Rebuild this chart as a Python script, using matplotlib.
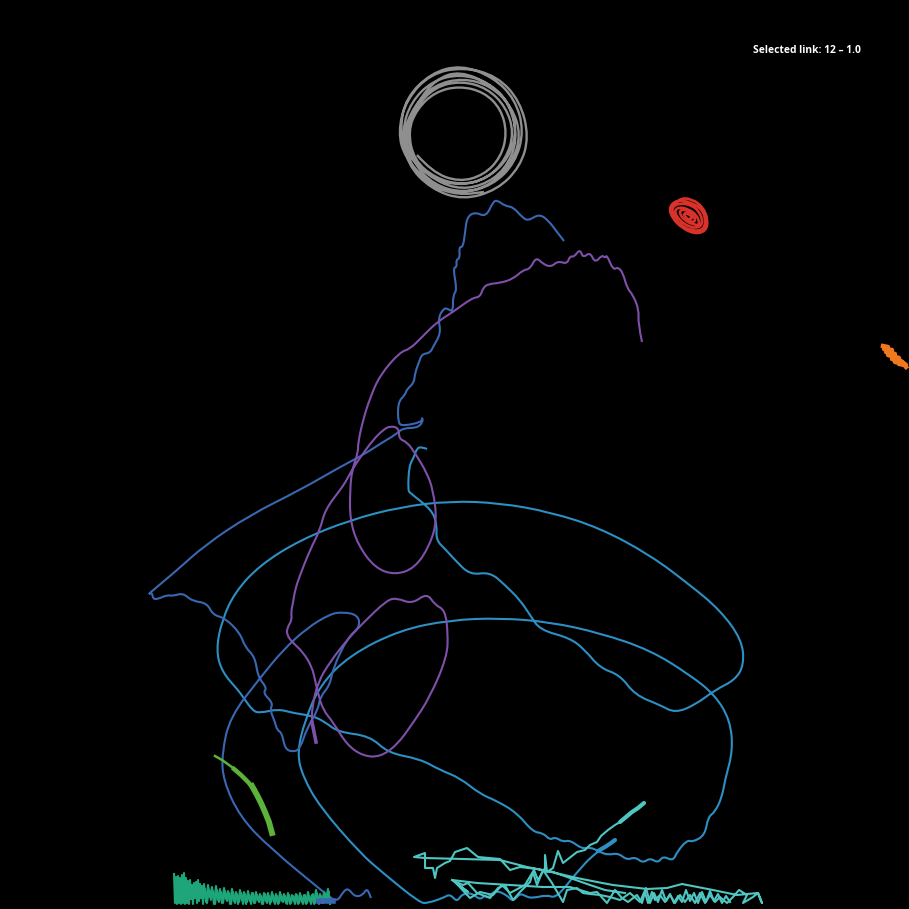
import matplotlib
matplotlib.use("Agg")
import matplotlib.pyplot as plt
from matplotlib.path import Path
from matplotlib.patches import PathPatch

TITLE = "Selected link: 12 – 1.0"

gray_x = [417,432,459,484,501,507,501,484,459,435,417,408,
          414,435,461,487,506,514,506,487,461,435,416,407,
          413,434,463,491,512,521,512,491,463,434,414,403,
          411,432,460,488,509,517,509,488,460,432,411,402,
          407,431,463,497,520,529,520,497,463,430,406,398,
          405,431,461,493,515,524,515,493,461,431,406,400,
          405,428,455,482,505,518,510,490,460,436,416,405,
          410,430,458,484]
gray_y = [155,172,182,175,157,133,109,92,86,92,109,131,
          160,178,185,179,159,133,107,88,81,87,107,133,
          163,185,193,185,163,135,107,86,78,85,106,133,
          158,178,186,178,158,130,102,82,74,81,102,130,
          164,189,200,190,167,137,101,76,67,74,100,132,
          158,185,194,185,163,131,99,77,65,73,98,128,
          152,176,189,186,170,140,104,84,71,79,104,135,
          166,186,195,192]

red_x = [671,679,692,703,708,706,695,682,672,669,677,690,702,706,703,692,680,673,672,680,691,699,703,699,689,679,674,679,688,697,700,695,685,679,682,690,696,693,686,683,689,693,689]
red_y = [207,198,199,207,220,231,234,228,218,207,200,202,209,221,230,231,225,215,207,203,205,211,222,228,227,220,211,207,209,215,225,225,221,213,209,212,219,223,218,213,214,218,219]

orange_x = [883,888,884,892,886,895,888,899,892,901,895,903,899,906,902,906]
orange_y = [346,347,349,350,352,354,355,358,359,361,362,363,364,365,362,367]

lime_thin_x = [215,222,229,236]
lime_thin_y = [756,760,765,770]
lime_mid_x = [234,241,248,254]
lime_mid_y = [769,775,782,789]
lime_wide_x = [252,257,261,265,269,272]
lime_wide_y = [786,795,803,812,822,833]

green_x = [174,175,176,177,178,179,180,181,182,183,184,185,186,187,188,189,190,191,192,193,194,195,196,197,198,199,200,201,202,203,204,206,208,210,212,214,216,218,220,222,224,226,228,230,232,234,236,238,240,242,244,246,248,250,252,254,256,258,260,262,264,266,268,270,272,274,276,278,280,282,284,286,288,290,292,294,296,298,300,302,304,306,308,310,312,314,316,318,320,322,324,326,328,330]
green_y = [874,903,877,904,876,903,878,904,875,903,873,904,878,903,881,904,880,899,885,904,883,898,882,903,880,901,884,898,886,904,884,902,885,897,887,904,886,900,889,903,888,899,891,904,889,901,892,904,890,900,892,904,891,901,893,903,892,900,894,904,893,901,893,904,892,902,894,904,892,901,894,903,893,904,895,901,894,904,893,902,895,904,892,901,895,904,890,902,894,903,892,900,889,904]
green2_x = [205,207,209,211,213,215,217,219,221,223,225,227,229,231,233,235,237,239,241,243,245,247,249,251,253,255,257,259,261,263,265,267,269,271,273,275,277,279,281,283,285,287,289,291,293,295,297,299,301,303,305,307,309,311,313,315,317,319,321,323,325,327,329]
green2_y = [889,903,890,900,891,904,890,902,892,903,891,901,893,904,892,903,894,902,893,904,894,902,895,904,893,903,895,902,896,904,894,903,896,902,895,904,896,903,895,902,896,904,895,903,896,904,895,903,896,904,895,903,896,904,894,903,893,904,896,903,894,902,892]

blue_x = [564,557,548,539,528,522,513,505,497,493,486,475,467,465,463,459,460,456,457,453,457,453,453,448,444,438,441,433,430,422,419,415,414,407,405,398,398,403,422,422,423,417,403,395,383,363,340,300,250,205,175,146,152,153,158,167,173,183,192,207,213,225,240,245,255,258,267,263,273,270,275,277,282,285,293,300,307,318,320,330,333,348,360,358,343,330,307,283,260,230,222,223,240,270,327,337,343,348,355,363,367,371]
blue_y = [241,232,220,214,221,217,207,206,200,202,217,212,217,233,247,247,258,260,267,268,290,295,312,309,308,318,333,347,353,354,362,373,383,389,395,402,423,426,422,417,422,428,428,435,442,455,467,490,515,545,572,596,592,599,599,595,596,593,601,603,615,618,633,647,657,677,688,693,703,710,722,730,733,749,752,749,728,710,697,685,668,637,627,615,612,614,628,650,678,717,753,780,817,848,895,902,892,888,897,895,888,898]
blue_blob_x = [319,333]
blue_blob_y = [901,901]

sky_x = [427,422,417,414,409,408,410,432,437,436,446,455,470,490,505,520,530,540,570,585,600,620,635,660,675,695,715,735,744,742,720,690,650,600,550,500,450,400,350,300,260,235,222,216,222,238,243,253,260,278,293,313,325,338,370,388,420,440,460,480,497,517,533,543,550,555,563,570,582,590,600,608,618,627,635,643,650,658,663,673,677,687,693,705,708,715,722,725,733,730,715,690,650,600,550,500,450,400,350,320,305,297,303,320,360,383,420,428,443,450,457,462,472,480,485,488,495,507,513,520,527,533,547,555,567,573,582,588,600]
sky_y = [449,447,448,457,466,490,493,510,525,540,550,560,575,572,585,600,615,630,638,650,668,675,695,705,713,705,690,680,665,640,610,585,555,528,512,503,501,507,520,540,565,592,620,650,672,690,697,711,713,709,713,716,722,732,736,753,759,770,778,794,801,813,832,833,840,837,842,840,849,847,852,855,853,860,857,863,858,863,856,861,852,840,842,835,817,812,797,780,750,720,695,675,650,633,622,618,620,630,655,685,720,753,777,807,853,873,903,903,898,894,902,894,893,900,895,898,890,895,902,893,897,898,895,898,885,877,867,860,850]
sky_tip_x = [598,605,611,615]
sky_tip_y = [851,847,843,840]

purple_x = [642,638,639,633,627,623,618,613,607,605,602,595,590,583,580,574,570,567,558,551,543,536,530,523,513,500,488,483,480,472,453,437,422,410,400,380,370,363,358,358,352,350,350,358,375,395,415,430,437,433,427,415,407,399,399,390,383,373,362,353,345,340,325,320,310,300,295,293,291,292,287,287,292,303,312,315,318,323,333,347,363,380,397,413,430,447,448,445,435,427,412,397,387,363,347,330,318,312,312]
purple_y = [342,323,310,295,288,273,267,270,255,258,255,263,252,258,249,257,256,264,261,267,264,257,269,270,279,283,284,288,297,298,312,322,337,349,352,375,398,420,443,453,470,490,520,545,568,575,568,545,520,490,473,453,442,439,428,426,430,440,455,468,483,490,510,530,550,575,590,603,612,620,628,635,642,652,667,680,693,710,722,745,756,757,745,723,697,657,633,610,605,593,604,598,600,623,640,662,682,707,723]
purple_tip_x = [312,314,316]
purple_tip_y = [722,732,742]

teal_x = [620,615,608,601,597,590,585,577,563,558,553,547,545,545,538,534,525,510,502,493,480,470,455,468,452,477,510,543,570,590,597,607,615,622,628,637,642,645,648,652,655,660,665,670,675,680,685,690,695,700,705,710,715,720,727,733,739,747,743,753,758,762,758,737,713,682,667,647,613,597,577,547,527,500,425,414,425,425,433,435,437,445,450,455,467,478,500,510,520,537,553,590,605,625]
teal_y = [822,825,830,836,842,845,850,852,863,851,868,872,855,868,880,870,885,893,885,895,892,898,882,892,880,883,885,887,887,893,892,903,890,898,902,895,903,892,903,892,900,895,902,895,903,895,902,895,903,893,903,895,902,897,903,897,890,895,903,897,893,903,893,895,890,884,888,889,885,882,878,871,867,860,858,857,853,868,868,878,868,863,861,852,848,857,859,870,867,869,872,885,890,893]
teal2_x = [452,463,468,477,490,498,505,513,520,530,533,537,543,552,563,567,577,583,590,600,610,620,630,640,646,650,654,658,662,666,670,674,678,682,686,690,694,698,702,706,710,714,718,722,726,730]
teal2_y = [880,885,883,893,898,888,885,900,892,882,872,885,870,883,902,890,888,893,894,895,897,900,893,902,888,903,893,902,890,901,894,903,896,902,890,901,893,903,892,902,891,901,894,903,896,902]
teal_tip_x = [644,638,632,626,620]
teal_tip_y = [803,808,812,817,822]

fig = plt.figure(figsize=(9.09, 9.09), dpi=100, facecolor="black")
ax = fig.add_axes([0, 0, 1, 1], facecolor="black")
ax.set_xlim(0, 909)
ax.set_ylim(909, 0)
ax.axis("off")


def smooth(xs, ys, color, lw):
    pts = list(zip(xs, ys))
    verts = [pts[0]]
    codes = [Path.MOVETO]
    for a, b in zip(pts[1:-1], pts[2:]):
        verts += [a, ((a[0] + b[0]) / 2, (a[1] + b[1]) / 2)]
        codes += [Path.CURVE3, Path.CURVE3]
    verts.append(pts[-1])
    codes.append(Path.LINETO)
    ax.add_patch(PathPatch(Path(verts, codes), fc="none", ec=color, lw=lw))


smooth(gray_x, gray_y, "#8f8f8f", 1.7)
smooth(red_x, red_y, "#d9322b", 1.9)
ax.plot(orange_x, orange_y, color="#f0781e", lw=3.2)
ax.plot(lime_thin_x, lime_thin_y, color="#5db33a", lw=1.8)
ax.plot(lime_mid_x, lime_mid_y, color="#5db33a", lw=3.2)
ax.plot(lime_wide_x, lime_wide_y, color="#5db33a", lw=4.2)
ax.plot(green_x, green_y, color="#1fa57a", lw=1.5)
ax.plot(green2_x, green2_y, color="#1fa57a", lw=1.5)
ax.plot(teal_x, teal_y, color="#4fc6c1", lw=1.5)
ax.plot(teal2_x, teal2_y, color="#4fc6c1", lw=1.5)
ax.plot(teal_tip_x, teal_tip_y, color="#4fc6c1", lw=3, solid_capstyle="round")
smooth(sky_x, sky_y, "#2d8fc3", 1.5)
ax.plot(sky_tip_x, sky_tip_y, color="#2d8fc3", lw=3, solid_capstyle="round")
smooth(blue_x, blue_y, "#3a67b2", 1.5)
ax.plot(blue_blob_x, blue_blob_y, color="#3a67b2", lw=4)
smooth(purple_x, purple_y, "#7f50a9", 1.5)
ax.plot(purple_tip_x, purple_tip_y, color="#7f50a9", lw=2.6)

ax.text(861, 50.5, TITLE, color="white", fontsize=7.35, family="Open Sans",
        fontweight="bold", ha="right", va="center")

fig.savefig("out.png", dpi=100, facecolor="black")
